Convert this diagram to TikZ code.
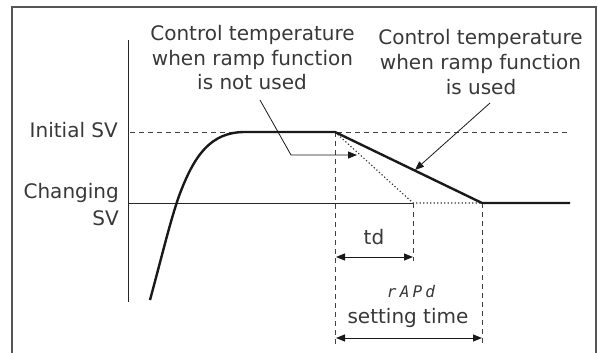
\documentclass[tikz,border=0pt]{standalone}
\usepackage{fontspec}
\setmainfont{DejaVu Sans}
\newfontfamily\segfont[LetterSpace=20]{DejaVu Sans Mono}
\usetikzlibrary{arrows.meta}
\definecolor{txt}{HTML}{383838}
\definecolor{frm}{HTML}{555555}
\tikzset{
  lbl/.style={inner sep=0pt, text=txt, anchor=base, font=\fontsize{20}{25}\selectfont},
  thin/.style={line width=0.9pt, draw=black!85},
  bold/.style={line width=2.4pt, draw=black!90},
  dsh/.style={line width=0.9pt, draw=black!75, dash pattern=on 5pt off 4pt},
  dot/.style={line width=1.1pt, draw=black!80, dash pattern=on 1.3pt off 2.2pt},
  arr/.style={line width=1pt, draw=black!90, -{Triangle[length=9pt,width=7pt]}},
  darr/.style={line width=1pt, draw=black!90, {Triangle[length=9pt,width=7pt]}-{Triangle[length=9pt,width=7pt]}},
}
\begin{document}
\begin{tikzpicture}[x=1pt,y=-1pt]
\useasboundingbox (0,0) rectangle (598,353);
% frame
\draw[line width=1.6pt, draw=frm] (12,353) -- (12,7) -- (596,7) -- (596,353);
% coordinates
\coordinate (axT) at (128,40);
\coordinate (axB) at (128,302);
\coordinate (iL) at (130,132);
\coordinate (iR) at (570,132);
\coordinate (cL) at (128,203);
\coordinate (tdE) at (413,203);
\coordinate (rE) at (482,203);
\coordinate (cR) at (570,203);
\coordinate (rs) at (335,132);
% axis
\draw[thin] (axT) -- (axB);
% Initial SV dashed
\draw[dsh] (iL) -- (iR);
% Changing SV thin
\draw[thin] (cL) -- (tdE);
% not used dotted
\draw[dot] (rs) -- (tdE) -- (rE);
% dashed verticals
\draw[dsh] (rs) -- (335,344);
\draw[dsh] (tdE) -- (413,261);
\draw[dsh] (rE) -- (482,344);
% bold curve
\draw[bold, line join=round] (150,300) .. controls (163,252) and (170,222) .. (179,196)
  .. controls (194,156) and (210,132) .. (245,132) -- (rs) -- (rE) -- (cR);
% arrows td, setting time
\coordinate (tdA) at (336,257);
\coordinate (tdB) at (413,257);
\coordinate (stA) at (336,338);
\coordinate (stB) at (482,338);
\draw[darr] (tdA) -- (tdB);
\draw[darr] (stA) -- (stB);
% labels
\node[lbl, anchor=base east] (init) at (118,138) {Initial SV};
\node[lbl, anchor=base east] (chg1) at (119,198) {Changing};
\node[lbl, anchor=base east] (chg2) at (119,225) {SV};
\node[lbl] (nu1t) at (252.5,41) {Control temperature};
\node[lbl] (nu2t) at (252.5,65.5) {when ramp function};
\node[lbl] (nu3t) at (252,90) {is not used};
\node[lbl] (us1t) at (480.5,45) {Control temperature};
\node[lbl] (us2t) at (480.5,70) {when ramp function};
\node[lbl] (us3t) at (481,95) {is used};
\node[lbl] (td) at (374,244) {td};
\node[lbl, font=\fontsize{16}{18}\selectfont\segfont\itshape] (rapd) at (411,297) {rAPd};
\node[lbl] (st) at (408,323) {setting time};
% leaders
\coordinate (nu1) at (260,100);
\coordinate (nu2) at (291,155);
\coordinate (nu3) at (357,155);
\draw[arr, line width=0.8pt] (nu1) -- (nu2) -- (nu3);
\coordinate (us1) at (490,103);
\coordinate (us2) at (415,170);
\draw[arr, line width=0.8pt] (us1) -- (us2);
\end{tikzpicture}
\end{document}
